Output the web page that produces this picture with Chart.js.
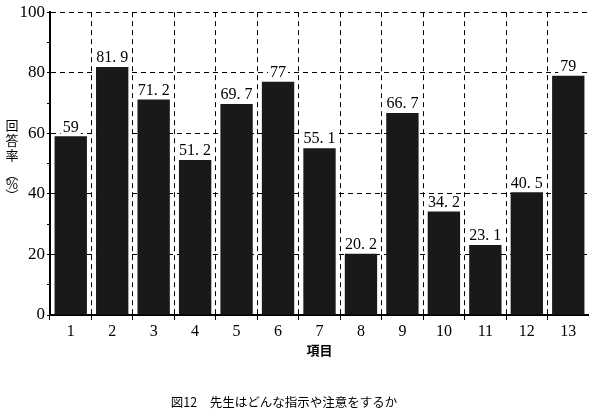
<!DOCTYPE html>
<html>
<head>
<meta charset="utf-8">
<script src="https://cdn.jsdelivr.net/npm/chart.js@4"></script>
<style>
  html, body { margin: 0; padding: 0; background: #fff; }
  #wrap { width: 589px; height: 411px; position: relative; }
</style>
</head>
<body>
<div id="wrap"><canvas id="barChart"></canvas></div>
<script>
const items = ["1", "2", "3", "4", "5", "6", "7", "8", "9", "10", "11", "12", "13"];
const rates = [59, 81.9, 71.2, 51.2, 69.7, 77, 55.1, 20.2, 66.7, 34.2, 23.1, 40.5, 79];
const yLabelChars = ["回", "答", "率", "︵", "%", "︶"];
const xTitle = "項目";
const caption = "図12　先生はどんな指示や注意をするか";

const serif = "'Liberation Serif', 'DejaVu Serif', serif";
const jp = "'Noto Sans CJK JP', sans-serif";

// value labels on white boxes above each bar
const valueLabels = {
    id: "valueLabels",
    afterDatasetsDraw(chart) {
        const ctx = chart.ctx;
        const meta = chart.getDatasetMeta(0);
        ctx.save();
        ctx.font = "16px " + serif;
        ctx.textAlign = "center";
        ctx.textBaseline = "bottom";
        meta.data.forEach((bar, i) => {
            const text = String(rates[i]).replace(".", ". ");
            const w = ctx.measureText(text).width;
            ctx.fillStyle = "#fff";
            ctx.fillRect(bar.x - w / 2 - 2, bar.y - 17, w + 4, 15);
            ctx.fillStyle = "#000";
            ctx.fillText(text, bar.x, bar.y - 1);
        });
        ctx.restore();
    }
};

// axis titles and caption
const titles = {
    id: "titles",
    afterDraw(chart) {
        const ctx = chart.ctx;
        const area = chart.chartArea;
        ctx.save();
        ctx.fillStyle = "#000";
        ctx.textAlign = "center";
        ctx.textBaseline = "middle";
        ctx.font = "13px " + jp;
        const ys = [125, 140, 155, 174, 184, 195];
        yLabelChars.forEach((c, i) => ctx.fillText(c, 12, ys[i]));

        ctx.font = "bold 13px " + jp;
        ctx.fillText(xTitle, (area.left + area.right) / 2, 350);

        ctx.font = "12.5px " + jp;
        ctx.fillText(caption, 284, 402);
        ctx.restore();
    }
};

new Chart(document.getElementById("barChart"), {
    type: "bar",
    data: {
        labels: items,
        datasets: [{
            data: rates,
            backgroundColor: "#191919",
            barPercentage: 0.78,
            categoryPercentage: 1
        }]
    },
    options: {
        responsive: true,
        maintainAspectRatio: false,
        animation: false,
        layout: { padding: { top: 8, right: 0, left: 0, bottom: 0 } },
        plugins: {
            legend: { display: false },
            tooltip: { enabled: false }
        },
        scales: {
            x: {
                afterFit(scale) { scale.height = 96; },
                grid: {
                    color: "#000",
                    lineWidth: 1,
                    tickColor: "#000",
                    tickLength: 5
                },
                border: { color: "#000", width: 2, dash: [5, 4] },
                ticks: {
                    color: "#000",
                    font: { family: serif, size: 16 },
                    padding: 2
                }
            },
            y: {
                min: 0,
                max: 100,
                afterFit(scale) { scale.width = 50; },
                grid: {
                    color: ctx => ctx.tick && ctx.tick.value % 20 === 0 ? "#000" : "rgba(0,0,0,0)",
                    lineWidth: 1,
                    tickColor: "#000",
                    tickLength: ctx => ctx.tick && ctx.tick.value % 20 === 0 ? 6 : 3
                },
                border: { color: "#000", width: 2, dash: [5, 4] },
                ticks: {
                    stepSize: 10,
                    color: "#000",
                    font: { family: serif, size: 17 },
                    padding: 2,
                    callback: v => v % 20 === 0 ? v : ""
                }
            }
        }
    },
    plugins: [valueLabels, titles]
});
</script>
</body>
</html>
